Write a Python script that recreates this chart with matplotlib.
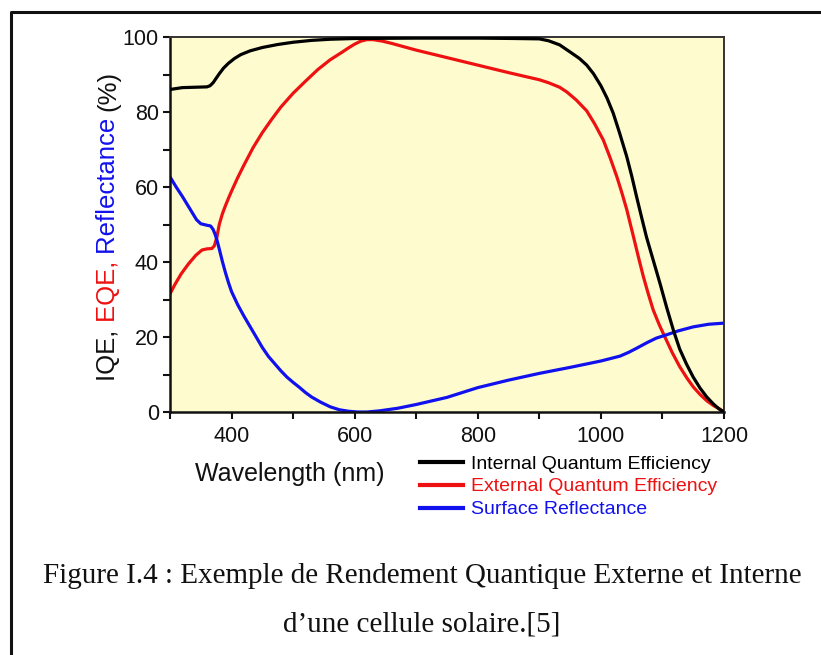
import matplotlib
matplotlib.use("Agg")
import matplotlib.pyplot as plt
from matplotlib.lines import Line2D
from matplotlib.ticker import MultipleLocator

# ---------------- data ----------------
iqe_wl = [300, 320, 340, 360, 365, 370, 375, 380, 387, 395, 405, 415, 430, 450, 475, 500,
          530, 560, 600, 700, 800, 860, 900, 915, 933, 950, 965, 977, 988, 1000, 1010,
          1020, 1030, 1042, 1050, 1058, 1066, 1074, 1085, 1096, 1107, 1118, 1128, 1139,
          1150, 1161, 1172, 1183, 1192, 1200]
iqe = [86.0, 86.5, 86.6, 86.7, 87.0, 87.8, 89.0, 90.2, 91.7, 93.0, 94.3, 95.3, 96.3, 97.2,
       98.0, 98.6, 99.1, 99.4, 99.6, 99.7, 99.7, 99.6, 99.5, 99.0, 97.9, 96.0, 94.3, 92.5,
       90.2, 87.0, 83.7, 79.7, 74.6, 68.1, 63.0, 57.4, 52.0, 46.7, 40.5, 34.3, 27.8, 21.7,
       16.8, 12.8, 9.3, 6.4, 4.0, 2.1, 0.8, 0.0]

eqe_wl = [300, 308, 318, 330, 342, 352, 360, 368, 372, 376, 380, 385, 390, 395, 400, 410,
          420, 435, 450, 465, 480, 500, 520, 540, 560, 580, 590, 600, 610, 620, 630, 645,
          660, 700, 750, 800, 850, 900, 915, 933, 945, 960, 977, 990, 1004, 1015, 1026,
          1034, 1042, 1053, 1061, 1069, 1077, 1085, 1095, 1104, 1116, 1128, 1140, 1150,
          1161, 1172, 1183, 1193, 1200]
eqe = [31.5, 34.0, 36.8, 39.5, 41.8, 43.2, 43.5, 43.6, 44.3, 46.5, 50.0, 52.8, 55.0, 57.0,
       58.9, 62.5, 65.8, 70.5, 74.5, 78.0, 81.3, 85.0, 88.2, 91.3, 93.9, 96.0, 97.1, 98.1,
       98.9, 99.3, 99.3, 98.9, 98.3, 96.5, 94.5, 92.5, 90.5, 88.6, 87.8, 86.6, 85.3, 83.2,
       80.3, 76.8, 72.5, 67.8, 62.7, 58.5, 54.0, 46.7, 41.3, 36.1, 31.5, 27.2, 23.2, 20.0,
       15.8, 12.1, 9.0, 6.7, 4.7, 3.0, 1.7, 0.8, 0.0]

ref_wl = [300, 310, 320, 333, 343, 350, 360, 366, 370, 373, 376, 380, 385, 390, 395, 400,
          410, 420, 430, 440, 450, 460, 470, 480, 490, 500, 510, 520, 530, 545, 560, 575,
          590, 605, 620, 640, 670, 700, 750, 800, 850, 900, 950, 1000, 1031, 1045, 1058,
          1075, 1090, 1107, 1125, 1150, 1175, 1200]
ref = [62.7, 60.0, 57.5, 54.0, 51.3, 50.2, 49.8, 49.6, 48.7, 47.5, 46.0, 43.5, 40.2, 37.2,
       34.5, 32.1, 28.6, 25.6, 22.8, 20.0, 17.2, 14.8, 12.9, 11.0, 9.3, 7.9, 6.6, 5.2, 4.0,
       2.6, 1.4, 0.6, 0.2, 0.0, 0.0, 0.3, 1.0, 2.0, 3.9, 6.5, 8.5, 10.3, 11.9, 13.6, 14.9,
       15.9, 17.0, 18.5, 19.7, 20.6, 21.6, 22.7, 23.4, 23.7]

series_labels = ["Internal Quantum Efficiency", "External Quantum Efficiency", "Surface Reflectance"]
series_colors = ["#000000", "#ee1111", "#1111ee"]
xticks = [400, 600, 800, 1000, 1200]
yticks = [0, 20, 40, 60, 80, 100]
xlabel = "Wavelength (nm)"
ylabel_parts = ["IQE, ", "EQE, ", "Reflectance ", "(%)"]
ylabel_colors = ["#111111", "#ee1111", "#1111ee", "#111111"]
caption1 = "Figure I.4 : Exemple de Rendement Quantique Externe et Interne"
caption2 = "d\u2019une cellule solaire.[5]"

# ---------------- figure ----------------
W, H = 821, 655
fig = plt.figure(figsize=(W / 100, H / 100), dpi=100)
fig.patch.set_facecolor("white")
SANS = ["Liberation Sans", "DejaVu Sans"]
SERIF = ["Liberation Serif", "DejaVu Serif"]

def fx(px):
    return px / W

def fy(py):
    return 1 - py / H

ax = fig.add_axes([fx(170), fy(412), fx(724) - fx(170), fy(37) - fy(412)])
ax.set_facecolor("#fefccf")

lw = 2.3
ax.plot(iqe_wl, iqe, color=series_colors[0], lw=lw, label=series_labels[0], zorder=3)
ax.plot(eqe_wl, eqe, color=series_colors[1], lw=lw, label=series_labels[1], zorder=2)
ax.plot(ref_wl, ref, color=series_colors[2], lw=lw, label=series_labels[2], zorder=2)

ax.set_xlim(300, 1200)
ax.set_ylim(0, 100)
ax.set_xticks(xticks)
ax.set_yticks(yticks)
ax.xaxis.set_minor_locator(MultipleLocator(100))
ax.yaxis.set_minor_locator(MultipleLocator(10))
for lab in ax.get_xticklabels() + ax.get_yticklabels():
    lab.set_family(SANS)
ax.tick_params(axis="both", which="both", direction="out", length=5, width=1.5,
               color="#111111", labelsize=15.5, labelcolor="#111111")
ax.tick_params(axis="x", pad=5)
ax.tick_params(axis="y", pad=3)
for side in ["left", "bottom"]:
    ax.spines[side].set_linewidth(1.8)
    ax.spines[side].set_color("#111111")
for side in ["top", "right"]:
    ax.spines[side].set_linewidth(1.4)
    ax.spines[side].set_color("#333333")

# x label (placed lower-left as in the reference)
fig.text(fx(290), fy(474), xlabel, ha="center", va="center", fontsize=18, family=SANS, color="#111111")

# multi-coloured rotated y label
renderer = fig.canvas.get_renderer()
fs_y = 18.5

def text_w(s):
    t = fig.text(0, 0, s, fontsize=fs_y, family=SANS)
    w = t.get_window_extent(renderer).width
    t.remove()
    return w

bar_w = text_w("|")
start_py = 381
prefix = ""
for part, col in zip(ylabel_parts, ylabel_colors):
    off = (text_w(prefix + "|") - bar_w) if prefix else 0.0
    fig.text(fx(115), fy(start_py - off), part, rotation=90, rotation_mode="anchor",
             ha="left", va="baseline", fontsize=fs_y, family=SANS, color=col)
    prefix += part

# legend below the axes at the right
leg = ax.legend(loc="upper left", bbox_to_anchor=(fx(420), fy(455)), bbox_transform=fig.transFigure,
                frameon=False, prop={"family": SANS, "size": 14},
                handlelength=2.2, handletextpad=0.4, labelspacing=0.27, borderpad=0,
                borderaxespad=0)
for txt, col in zip(leg.get_texts(), series_colors):
    txt.set_color(col)
for h in leg.get_lines():
    h.set_linewidth(3)

# caption
fig.text(fx(422), fy(583), caption1, ha="center", va="baseline", fontsize=21, family=SERIF, color="#111111")
fig.text(fx(422), fy(631), caption2, ha="center", va="baseline", fontsize=21, family=SERIF, color="#111111")

# page frame (top and left edges visible)
fig.add_artist(Line2D([fx(11), fx(11), fx(830)], [fy(660), fy(12), fy(12)],
                      transform=fig.transFigure, color="#111111", lw=2.2))

fig.savefig("out.png", dpi=100)
